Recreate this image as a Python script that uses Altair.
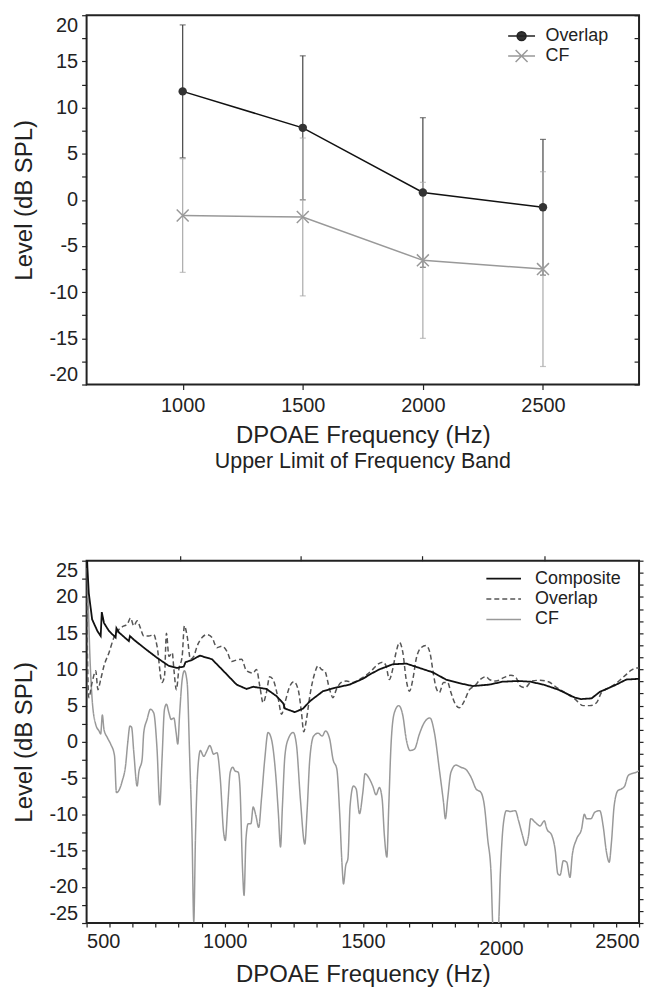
import altair as alt
import pandas as pd

FONT = "Liberation Sans"
TXT = "#222222"

# ---------------- top panel data (means and SDs by band upper limit) ----------------
top_freq = [1000, 1500, 2000, 2500]
overlap_mean = [11.75, 7.8, 0.8, -0.8]
overlap_sd = [7.2, 7.8, 8.1, 7.35]
cf_mean = [-1.7, -1.85, -6.55, -7.5]
cf_sd = [6.15, 8.55, 8.45, 10.55]

# ---------------- bottom panel data ----------------
comp_f = [500, 503, 508, 520, 539, 551, 555, 563, 581, 605, 608, 617, 653, 657, 671, 707, 755, 797, 828,
          852, 858, 882, 910, 954, 1000, 1043, 1079, 1103, 1151, 1188, 1212, 1218, 1254, 1284, 1308, 1356,
          1404, 1452, 1500, 1530, 1560, 1608, 1657, 1705, 1753, 1801, 1849, 1898, 1958, 2006, 2064, 2106,
          2154, 2208, 2268, 2290, 2328, 2358, 2412, 2454, 2500]
comp_l = [27, 24, 20.5, 16.9, 15.3, 14.6, 17.9, 16.4, 15.3, 14.4, 15.7, 15.1, 13.9, 14.6, 14.1, 13.0, 11.6,
          10.5, 10.2, 10.4, 11.0, 11.3, 11.9, 11.4, 9.6, 7.9, 7.3, 7.6, 7.3, 6.3, 5.3, 4.6, 4.1, 4.6, 5.6,
          7.0, 7.5, 7.9, 8.7, 9.4, 10.0, 10.7, 10.8, 10.2, 9.6, 8.6, 8.1, 7.7, 7.9, 8.3, 8.4, 8.3, 7.9, 7.2,
          6.1, 5.9, 6.0, 6.9, 7.8, 8.6, 8.7]

ovl_f = [500, 504, 508, 520, 533, 541, 551, 563, 581, 599, 617, 635, 647, 659, 671, 683, 695, 707, 725, 743,
         755, 773, 782, 789, 798, 810, 816, 825, 834, 846, 854, 864, 876, 888, 900, 918, 936, 954, 972, 990,
         1008, 1025, 1043, 1061, 1079, 1103, 1115, 1127, 1139, 1151, 1163, 1175, 1194, 1206, 1218, 1236,
         1250, 1266, 1278, 1286, 1296, 1308, 1326, 1338, 1350, 1362, 1380, 1392, 1404, 1422, 1440, 1464,
         1488, 1512, 1536, 1548, 1572, 1584, 1596, 1608, 1620, 1633, 1645, 1657, 1669, 1681, 1693, 1711,
         1729, 1743, 1755, 1765, 1777, 1792, 1807, 1819, 1835, 1849, 1867, 1886, 1904, 1928, 1946, 1958,
         1982, 2012, 2036, 2054, 2070, 2088, 2112, 2142, 2172, 2202, 2232, 2268, 2298, 2322, 2346, 2364,
         2394, 2424, 2448, 2472, 2490, 2500]
ovl_l = [21, 10, 6.1, 8.2, 9.8, 7.2, 8.6, 10.5, 12.3, 14.4, 15.5, 16.0, 16.2, 17.1, 16.0, 16.7, 15.7, 14.6,
         14.6, 14.8, 13.2, 8.2, 9.1, 15.0, 11.8, 12.3, 10.0, 7.2, 10.0, 11.8, 16.0, 14.6, 11.4, 11.8, 13.2,
         14.4, 14.8, 14.4, 13.0, 13.2, 12.5, 11.1, 11.3, 11.4, 9.8, 9.5, 10.0, 7.7, 5.4, 6.8, 9.0, 8.6, 5.9,
         3.8, 5.4, 7.7, 8.3, 7.2, 4.0, 1.4, 3.1, 6.3, 9.5, 10.5, 10.0, 9.8, 7.2, 6.1, 7.2, 8.2, 8.4, 8.2,
         8.6, 9.2, 10.0, 10.5, 11.0, 10.5, 8.6, 10.0, 12.3, 13.7, 12.3, 8.6, 7.0, 8.6, 11.4, 13.0, 13.3,
         12.3, 9.5, 7.5, 6.8, 8.2, 8.2, 6.8, 5.2, 4.7, 5.6, 7.2, 7.7, 8.7, 9.0, 8.6, 8.4, 8.9, 9.2, 8.9,
         7.7, 7.5, 8.4, 8.5, 8.3, 7.5, 6.8, 5.9, 5.0, 5.0, 5.4, 6.8, 7.5, 8.3, 9.1, 9.9, 10.2, 10.2]

cf_f = [500, 506, 512, 520, 533, 545, 551, 557, 563, 575, 587, 601, 608, 617, 629, 641, 649, 657, 663, 671,
        683, 689, 701, 707, 719, 731, 743, 755, 765, 773, 782, 789, 798, 806, 816, 824, 830, 837, 846, 854,
        864, 873, 882, 888, 894, 902, 912, 924, 936, 946, 960, 972, 984, 996, 1002, 1011, 1020, 1029, 1037,
        1049, 1055, 1065, 1070, 1077, 1085, 1095, 1103, 1113, 1123, 1133, 1145, 1157, 1169, 1185, 1194,
        1202, 1209, 1218, 1230, 1248, 1260, 1274, 1290, 1298, 1308, 1322, 1338, 1353, 1365, 1380, 1392,
        1406, 1416, 1425, 1430, 1438, 1446, 1454, 1466, 1476, 1488, 1500, 1508, 1524, 1536, 1548, 1560,
        1570, 1578, 1587, 1594, 1602, 1614, 1630, 1645, 1657, 1671, 1687, 1705, 1723, 1743, 1759, 1777,
        1792, 1799, 1807, 1819, 1837, 1855, 1873, 1892, 1910, 1928, 1940, 1952, 1964, 1972, 1990, 1998,
        2008, 2020, 2034, 2052, 2064, 2078, 2090, 2100, 2108, 2124, 2142, 2157, 2166, 2184, 2196, 2206,
        2214, 2226, 2238, 2250, 2258, 2274, 2292, 2302, 2310, 2326, 2340, 2358, 2370, 2382, 2392, 2400,
        2410, 2424, 2436, 2448, 2460, 2472, 2490, 2500]
cf_l = [24, 18.7, 11.8, 5.9, 2.4, 1.5, 1.1, 3.7, 1.7, 0.6, -0.3, -1.9, -7.0, -6.7, -5.4, -3.3, -0.1, 2.2,
        2.0, -1.5, -6.1, -4.2, -2.4, 1.3, 3.1, 4.5, 4.0, -1.0, -8.7, -2.4, 4.5, 5.2, 4.0, 3.1, 3.3, 1.3,
        -0.3, 4.0, 8.6, 9.8, 8.2, -1.9, -13.4, -24.8, -13.4, -4.2, -1.2, -2.0, -1.2, -0.5, -1.7, -1.5,
        -5.1, -12.5, -13.6, -8.8, -4.2, -3.5, -4.0, -4.2, -6.1, -18.0, -21.2, -13.4, -11.3, -11.3, -9.0,
        -10.2, -11.8, -7.9, -2.4, 1.3, 0.4, -4.7, -9.7, -14.5, -8.8, -1.9, 0.4, 1.3, -0.5, -7.9, -14.1,
        -9.7, -2.4, 0.8, 1.2, 0.8, 1.5, 0.4, -2.4, -3.8, -9.7, -17.1, -19.6, -17.1, -16.1, -8.8, -6.1,
        -6.5, -9.9, -7.0, -4.4, -5.1, -6.1, -7.3, -6.3, -7.9, -12.9, -15.9, -8.8, -0.5, 4.0, 5.0, 3.6,
        0.4, -1.2, -1.0, 1.1, 2.7, 3.3, 1.3, -3.8, -8.3, -10.6, -7.9, -4.2, -3.2, -3.5, -3.8, -4.9, -6.5,
        -7.0, -8.8, -13.4, -18.0, -26, -26, -18.0, -11.6, -9.5, -9.6, -9.5, -10.9, -12.9, -14.3, -12.9,
        -10.6, -11.1, -11.6, -10.9, -12.0, -12.9, -14.8, -18.2, -18.4, -16.4, -16.6, -18.7, -15.7,
        -13.4, -12.0, -10.0, -10.6, -10.6, -9.7, -9.5, -11.6, -15.2, -16.6, -13.9, -8.8, -6.7, -6.5,
        -6.1, -4.7, -4.4, -4.2, -4.0]

top_series = ["Overlap", "CF"]
bot_series = ["Composite", "Overlap", "CF"]

# ---------------- tables ----------------
rows = []
for f, m, s in zip(top_freq, overlap_mean, overlap_sd):
    rows.append({"series": "Overlap", "freq": f, "mean": m, "lo": m - s, "hi": m + s})
for f, m, s in zip(top_freq, cf_mean, cf_sd):
    rows.append({"series": "CF", "freq": f, "mean": m, "lo": m - s, "hi": m + s})
df_top = pd.DataFrame(rows)

df_bot = pd.concat([
    pd.DataFrame({"series": "Composite", "freq": comp_f, "level": comp_l}),
    pd.DataFrame({"series": "Overlap", "freq": ovl_f, "level": ovl_l}),
    pd.DataFrame({"series": "CF", "freq": cf_f, "level": cf_l}),
], ignore_index=True)

# ---------------- top panel ----------------
TW, TH = 555, 371
xs_top = alt.Scale(domain=[600, 2900], nice=False)
ys_top = alt.Scale(domain=[-20, 20], nice=False)

top_x_axis = alt.Axis(values=top_freq, labelExpr="toString(datum.value)", tickSize=5, tickWidth=1.2,
                      domain=False, grid=False, labelFontSize=20, labelPadding=6,
                      title="DPOAE Frequency (Hz)", titleFontSize=24, titlePadding=8)
top_x_hidden = alt.Axis(orient="top", ticks=False, labels=False, domain=False, grid=False, title=None)
top_y_vals = [-20 + 2.5 * k for k in range(17)]
top_y_axis = alt.Axis(values=top_y_vals,
                      labelExpr="datum.value % 5 === 0 ? toString(datum.value) : ''",
                      labelFlush=True, labelOverlap=False, tickSize=5, tickWidth=1.2, domain=False,
                      grid=False, labelFontSize=20, labelPadding=4, title="Level (dB SPL)",
                      titleFontSize=24, titlePadding=12)
top_y_right = alt.Axis(orient="right", values=top_y_vals, labels=False, tickSize=5, tickWidth=1.2,
                       offset=-5, domain=False, grid=False, title=None)


def tx():
    return alt.X("freq:Q", scale=xs_top, axis=top_x_axis)


def ty(field):
    return alt.Y(field, scale=ys_top, axis=top_y_axis)


base = alt.Chart(df_top)
ovl_bars = base.transform_filter(alt.datum.series == "Overlap").mark_rule(
    color="#444444", strokeWidth=1.2).encode(x=tx(), y=ty("lo:Q"), y2="hi:Q")
ovl_caps = base.transform_filter(alt.datum.series == "Overlap").transform_fold(
    ["lo", "hi"], as_=["which", "val"]).mark_tick(
    orient="horizontal", size=6, thickness=1.2, color="#444444").encode(x=tx(), y=ty("val:Q"))
cf_bars = base.transform_filter(alt.datum.series == "CF").mark_rule(
    color="#aaaaaa", strokeWidth=1.2).encode(x=tx(), y=ty("lo:Q"), y2="hi:Q")
cf_caps = base.transform_filter(alt.datum.series == "CF").transform_fold(
    ["lo", "hi"], as_=["which", "val"]).mark_tick(
    orient="horizontal", size=6, thickness=1.2, color="#aaaaaa").encode(x=tx(), y=ty("val:Q"))
ovl_line = base.transform_filter(alt.datum.series == "Overlap").mark_line(
    color="#111111", strokeWidth=1.5).encode(x=tx(), y=ty("mean:Q"))
cf_line = base.transform_filter(alt.datum.series == "CF").mark_line(
    color="#999999", strokeWidth=1.5).encode(x=tx(), y=ty("mean:Q"))
ovl_pts = base.transform_filter(alt.datum.series == "Overlap").mark_point(
    filled=True, shape="circle", size=72, color="#333333", opacity=1).encode(x=tx(), y=ty("mean:Q"))
cf_pts = base.transform_filter(alt.datum.series == "CF").mark_point(
    filled=False, shape="M-1,-1L1,1M-1,1L1,-1", size=144, color="#999999", strokeWidth=1.5,
    opacity=1).encode(x=tx(), y=ty("mean:Q"))

path_ovl = "M-2.25,0L2.25,0M0.75,0A0.75,0.75,0,1,1,-0.75,0A0.75,0.75,0,1,1,0.75,0Z"
path_cf = "M-2.25,0L2.25,0M-1,-1L1,1M-1,1L1,-1"
leg_top = alt.Legend(title=None, orient="none", legendX=428, legendY=12, symbolSize=144,
                     symbolStrokeWidth=1.5, symbolOpacity=1, labelFontSize=18, labelOffset=15,
                     symbolOffset=0, rowPadding=2, labelFont=FONT, labelColor=TXT)
legend_layer = base.mark_point(filled=True, opacity=0, size=144, strokeWidth=1.5).encode(
    x=alt.X("freq:Q", scale=xs_top, axis=top_x_hidden),
    y=alt.Y("mean:Q", scale=ys_top, axis=top_y_right),
    shape=alt.Shape("series:N", scale=alt.Scale(domain=top_series, range=[path_ovl, path_cf]),
                    legend=leg_top),
    fill=alt.Fill("series:N", scale=alt.Scale(domain=top_series, range=["#333333", "#999999"]),
                  legend=leg_top),
    stroke=alt.Stroke("series:N", scale=alt.Scale(domain=top_series, range=["#222222", "#999999"]),
                      legend=leg_top),
)

top_main = alt.layer(ovl_bars, ovl_caps, cf_bars, cf_caps, ovl_line, cf_line, ovl_pts, cf_pts)
top = alt.layer(top_main, legend_layer).resolve_axis(x="independent", y="independent").properties(
    width=TW, height=TH,
    title=alt.TitleParams("Upper Limit of Frequency Band", orient="bottom", fontSize=21.5, offset=4,
                          anchor="middle", frame="group", font=FONT, color=TXT, fontWeight="normal"))

# ---------------- bottom panel ----------------
BW, BH = 555, 364
xs_bot = alt.Scale(domain=[500, 2500], nice=False)
ys_bot = alt.Scale(domain=[-25, 25], nice=False)
bot_x_vals = [500 + k * 500 / 6 for k in range(25)]
bot_x_axis = alt.Axis(values=bot_x_vals,
                      labelExpr="datum.value % 500 === 0 ? toString(datum.value) : ''",
                      labelFlush=True, labelOverlap=False, tickSize=4, tickWidth=1.2, domain=False,
                      grid=False, labelFontSize=20,
                      labelPadding={"condition": {"test": "datum.value === 2000", "value": 12},
                                    "value": 5},
                      title="DPOAE Frequency (Hz)", titleFontSize=24, titlePadding=4)
bot_y_vals = [-25 + 2.5 * k for k in range(21)]
bot_y_axis = alt.Axis(values=bot_y_vals,
                      labelExpr="datum.value % 5 === 0 ? toString(datum.value) : ''",
                      labelFlush=True, labelOverlap=False, tickSize=5, tickWidth=1.2, domain=False,
                      grid=False, labelFontSize=20, labelPadding=4, title="Level (dB SPL)",
                      titleFontSize=24, titlePadding=12)
top_tick_vals = [838, 1276, 1716, 2157]
bot_x_top = alt.Axis(orient="top", values=top_tick_vals, labels=False, tickSize=5, tickWidth=1.2,
                     domain=False, grid=False, title=None)
bot_y_right = alt.Axis(orient="right", values=[-25 + k * 50 / 30 for k in range(31)], labels=False,
                       tickSize=4, tickWidth=1.2, domain=False, grid=False, title=None)

col_scale = alt.Scale(domain=bot_series, range=["#111111", "#555555", "#999999"])
dash_scale = alt.Scale(domain=bot_series, range=[[1, 0], [5, 3], [1, 0]])
leg_bot = alt.Legend(title=None, orient="none", legendX=410, legendY=9,
                     symbolType="M-2.9,0L2.9,0", symbolSize=144, symbolStrokeWidth=1.6,
                     labelFontSize=18, labelOffset=22.5, symbolOffset=0, rowPadding=2.5,
                     labelFont=FONT, labelColor=TXT)


def bline(name, width, interp):
    return alt.Chart(df_bot).transform_filter(alt.datum.series == name).mark_line(
        clip=True, strokeWidth=width, interpolate=interp).encode(
        x=alt.X("freq:Q", scale=xs_bot, axis=bot_x_axis),
        y=alt.Y("level:Q", scale=ys_bot, axis=bot_y_axis),
        color=alt.Color("series:N", scale=col_scale, legend=leg_bot),
        strokeDash=alt.StrokeDash("series:N", scale=dash_scale, legend=leg_bot),
    )


bot_main = alt.layer(bline("CF", 1.5, "monotone"), bline("Overlap", 1.5, "monotone"),
                     bline("Composite", 1.8, "linear"))
bot_aux = alt.Chart(df_bot).mark_point(opacity=0, size=1, clip=True).encode(
    x=alt.X("freq:Q", scale=xs_bot, axis=bot_x_top),
    y=alt.Y("level:Q", scale=ys_bot, axis=bot_y_right),
)
bot = alt.layer(bot_main, bot_aux).resolve_axis(x="independent", y="independent").properties(
    width=BW, height=BH)

chart = alt.vconcat(top, bot, spacing=80).resolve_scale(
    color="independent", strokeDash="independent", fill="independent", stroke="independent",
    shape="independent"
).resolve_legend(
    color="independent", strokeDash="independent", fill="independent", stroke="independent",
    shape="independent"
).properties(
    padding={"left": 12, "top": 11, "right": 4, "bottom": 0}, background="white"
).configure_view(stroke=TXT, strokeWidth=2).configure_axis(
    labelFont=FONT, titleFont=FONT, labelColor=TXT, titleColor=TXT, tickColor=TXT,
    titleFontWeight="normal"
).configure_legend(labelFont=FONT, labelColor=TXT)

chart.save("out.html", embed_options={"renderer": "svg", "actions": False})
